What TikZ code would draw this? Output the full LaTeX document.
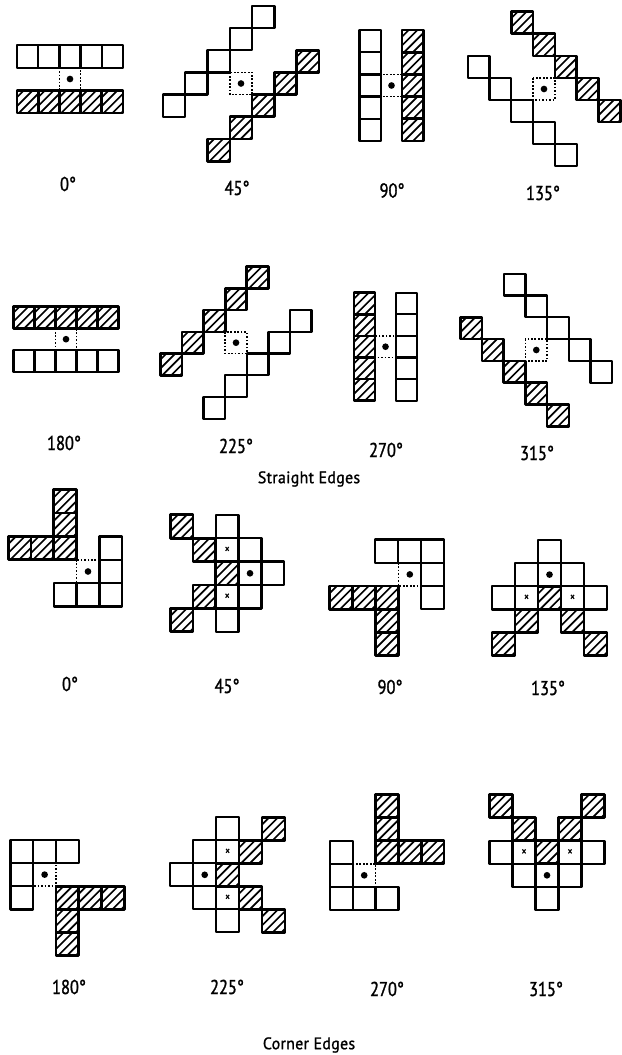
\documentclass[tikz,border=0pt]{standalone}
\usepackage{fontspec}
\setmainfont[FakeStretch=0.82,FakeBold=1.4]{PT Sans}
\newfontfamily\edgefont[FakeStretch=0.95,FakeBold=1.2,LetterSpace=2]{PT Sans}
\tikzset{
  x=0.75pt,y=-0.75pt,
  cellline/.style={draw=black,line width=1.7pt,line join=round},
  hatchline/.style={draw=black,line width=1.25pt},
  dotline/.style={draw=black,line width=1.1pt,dash pattern=on 1.3pt off 1.3pt},
  pivot/.style={circle,fill=black,inner sep=0pt,minimum size=5pt},
  markx/.style={inner sep=0pt,font=\fontsize{9}{9}\selectfont},
  anglelabel/.style={inner sep=0pt,font=\fontsize{15}{17}\selectfont},
  titlelabel/.style={inner sep=0pt,font=\edgefont\fontsize{12.5}{14}\selectfont}
}
% current glyph: centre and cell size
\newcommand{\glyphset}[4]{\def\gcx{#1}\def\gcy{#2}\def\gsx{#3}\def\gsy{#4}}
\newcommand{\cellpath}[2]{({\gcx+(#1-0.5)*\gsx},{\gcy+(#2-0.5)*\gsy}) rectangle ({\gcx+(#1+0.5)*\gsx},{\gcy+(#2+0.5)*\gsy})}
\newcommand{\clearcells}[1]{\foreach \u/\v in {#1}{\path[cellline] \cellpath{\u}{\v};}}
\newcommand{\hatchcells}[1]{\foreach \u/\v in {#1}{%
  \begin{scope}
    \clip \cellpath{\u}{\v};
    \foreach \k in {-3,...,2}{
      \draw[hatchline] ({\gcx+(\u-0.5)*\gsx+\k*8.8+2},{\gcy+(\v+0.5)*\gsy}) -- ++(24,-24);
    }
  \end{scope}
  \path[cellline,line width=2pt] \cellpath{\u}{\v};}}
\newcommand{\centrecell}{%
  \path[dotline] \cellpath{0}{0};
  \node[pivot] at (\gcx,\gcy) {};}
\newcommand{\crosscells}[1]{\foreach \u/\v in {#1}{\node[markx] at ({\gcx+\u*\gsx},{\gcy+\v*\gsy}) {×};}}
\begin{document}
\begin{tikzpicture}
\useasboundingbox (0,0) rectangle (621,1055);
\fill[white] (0,0) rectangle (621,1055);

% ----- straight edges, first row
\glyphset{70}{79}{21.2}{22.6}\centrecell
\clearcells{-2/-1,-1/-1,0/-1,1/-1,2/-1}
\hatchcells{-2/1,-1/1,0/1,1/1,2/1}
\glyphset{241}{83.5}{22.3}{22.2}\centrecell
\clearcells{1/-3,0/-2,-1/-1,-2/0,-3/1}
\hatchcells{3/-1,2/0,1/1,0/2,-1/3}
\glyphset{391.5}{85.5}{21.3}{22.2}\centrecell
\clearcells{-1/-2,-1/-1,-1/0,-1/1,-1/2}
\hatchcells{1/-2,1/-1,1/0,1/1,1/2}
\glyphset{544}{89}{21.8}{22.1}\centrecell
\clearcells{-3/-1,-2/0,-1/1,0/2,1/3}
\hatchcells{-1/-3,0/-2,1/-1,2/0,3/1}

% ----- straight edges, second row
\glyphset{66}{339.2}{21}{21.8}\centrecell
\clearcells{-2/1,-1/1,0/1,1/1,2/1}
\hatchcells{-2/-1,-1/-1,0/-1,1/-1,2/-1}
\glyphset{236}{342.7}{21.6}{21.7}\centrecell
\clearcells{-1/3,0/2,1/1,2/0,3/-1}
\hatchcells{-3/1,-2/0,-1/-1,0/-2,1/-3}
\glyphset{385.5}{346.7}{21}{21.6}\centrecell
\clearcells{1/-2,1/-1,1/0,1/1,1/2}
\hatchcells{-1/-2,-1/-1,-1/0,-1/1,-1/2}
\glyphset{536.3}{350}{21.7}{21.8}\centrecell
\clearcells{-1/-3,0/-2,1/-1,2/0,3/1}
\hatchcells{-3/-1,-2/0,-1/1,0/2,1/3}

% ----- corner edges, first row
\glyphset{88}{571.5}{22.8}{23.4}\centrecell
\clearcells{1/-1,1/0,1/1,0/1,-1/1}
\hatchcells{-3/-1,-2/-1,-1/-1,-1/-2,-1/-3}
\glyphset{250}{573.3}{22.8}{23.4}
\node[pivot] at (\gcx,\gcy) {};
\clearcells{-1/-2,-1/-1,0/-1,1/0,0/1,-1/1,-1/2,0/0}
\hatchcells{-3/-2,-2/-1,-1/0,-2/1,-3/2}
\crosscells{-1/-1,-1/1}
\glyphset{409.8}{574.4}{23}{23.2}\centrecell
\clearcells{-1/-1,0/-1,1/-1,1/0,1/1}
\hatchcells{-3/1,-2/1,-1/1,-1/2,-1/3}
\glyphset{549.5}{574.6}{23}{23.2}
\node[pivot] at (\gcx,\gcy) {};
\clearcells{0/-1,-1/0,0/0,1/0,-2/1,-1/1,1/1,2/1}
\hatchcells{0/1,-1/2,1/2,-2/3,2/3}
\crosscells{-1/1,1/1}

% ----- corner edges, second row
\glyphset{44.6}{874.6}{22.8}{23.2}\centrecell
\clearcells{-1/-1,0/-1,1/-1,-1/0,-1/1}
\hatchcells{1/1,2/1,3/1,1/2,1/3}
\glyphset{204.7}{874.8}{22.9}{23}
\node[pivot] at (\gcx,\gcy) {};
\clearcells{1/-2,0/-1,1/-1,-1/0,0/0,0/1,1/1,1/2}
\hatchcells{3/-2,2/-1,1/0,2/1,3/2}
\crosscells{1/-1,1/1}
\glyphset{364.2}{875.3}{22.8}{23}\centrecell
\clearcells{-1/-1,-1/0,-1/1,0/1,1/1}
\hatchcells{1/-3,1/-2,1/-1,2/-1,3/-1}
\glyphset{547}{875.3}{23}{23}
\node[pivot] at (\gcx,\gcy) {};
\clearcells{-2/-1,-1/-1,1/-1,2/-1,-1/0,0/0,1/0,0/1}
\hatchcells{-2/-3,2/-3,-1/-2,1/-2,0/-1}
\crosscells{-1/-1,1/-1}

% ----- labels
\node[anglelabel] (a1) at (68,184) {0°};
\node[anglelabel] (a2) at (237,188) {45°};
\node[anglelabel] (a3) at (392,190.5) {90°};
\node[anglelabel] (a4) at (543,193) {135°};
\node[anglelabel] (b1) at (64,443) {180°};
\node[anglelabel] (b2) at (236,446) {225°};
\node[anglelabel] (b3) at (386,450) {270°};
\node[anglelabel] (b4) at (537,453) {315°};
\node[titlelabel] (t1) at (309,479) {Straight Edges};
\node[anglelabel] (c1) at (70,684) {0°};
\node[anglelabel] (c2) at (227,686) {45°};
\node[anglelabel] (c3) at (390,687) {90°};
\node[anglelabel] (c4) at (548,688) {135°};
\node[anglelabel] (d1) at (69,987) {180°};
\node[anglelabel] (d2) at (227,987) {225°};
\node[anglelabel] (d3) at (387,989) {270°};
\node[anglelabel] (d4) at (546,989) {315°};
\node[titlelabel] (t2) at (309,1045) {Corner Edges};
\end{tikzpicture}
\end{document}
